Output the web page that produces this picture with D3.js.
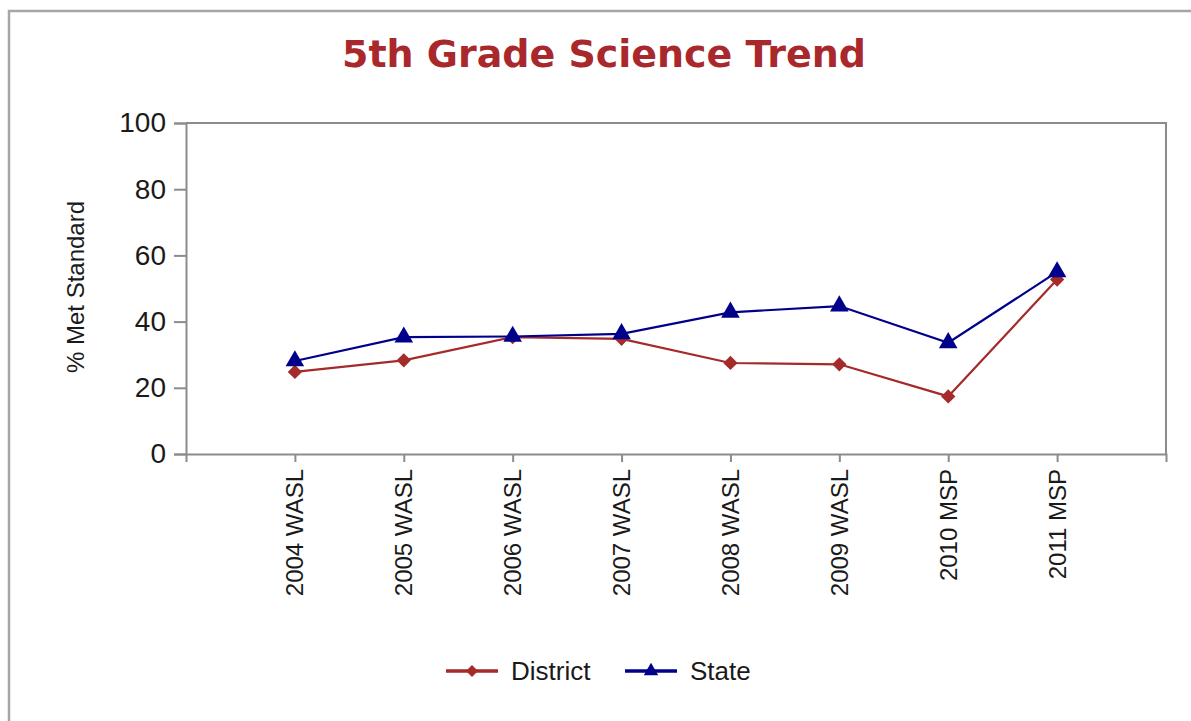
<!DOCTYPE html>
<html>
<head>
<meta charset="utf-8">
<script src="https://cdn.jsdelivr.net/npm/d3@7"></script>
<style>
    body { margin: 0; background: #fff; }
    svg { display: block; font-family: "Liberation Sans", Arial, sans-serif; }
</style>
</head>
<body>
<svg id="viz" width="1191" height="721"></svg>
<script>
// data
var categories = ["2004 WASL", "2005 WASL", "2006 WASL", "2007 WASL",
    "2008 WASL", "2009 WASL", "2010 MSP", "2011 MSP"];
var districtValues = [24.8, 28.3, 35.3, 34.8, 27.5, 27.1, 17.4, 52.7];
var stateValues = [28.1, 35.3, 35.5, 36.3, 42.8, 44.7, 33.6, 55.0];
var yTicks = [0, 20, 40, 60, 80, 100];

var series = [
    { name: "District", values: districtValues, color: "#a52a2a", marker: d3.symbolDiamond2 },
    { name: "State", values: stateValues, color: "#00008b", marker: d3.symbolTriangle }
];

var svg = d3.select("#viz");
var axisColor = "#8c8c8c";

// outer frame, runs off the right and bottom edges like the original
svg.append("rect")
    .attr("x", 9).attr("y", 11)
    .attr("width", 1200).attr("height", 730)
    .style("fill", "none")
    .style("stroke", "#a6a6a6")
    .style("stroke-width", 2.5);

svg.append("text")
    .attr("x", 604).attr("y", 67)
    .attr("text-anchor", "middle")
    .attr("textLength", 524)
    .attr("lengthAdjust", "spacingAndGlyphs")
    .style("font-family", "'DejaVu Sans', Verdana, sans-serif")
    .style("font-weight", "bold")
    .style("font-size", "37px")
    .style("fill", "#a8282c")
    .text("5th Grade Science Trend");

// plot area edges ("top" is taken by window.top)
var plotLeft = 186, plotRight = 1166, plotTop = 123, plotBottom = 454;

var x = d3.scalePoint().domain(categories).range([plotLeft, plotRight]).padding(1);
var y = d3.scaleLinear().domain([0, 100]).range([plotBottom, plotTop]);

// plot box (top and right sides)
svg.append("path")
    .attr("d", "M" + plotLeft + "," + plotTop + "H" + plotRight + "V" + plotBottom)
    .style("fill", "none")
    .style("stroke", axisColor)
    .style("stroke-width", 2);

var yAxis = svg.append("g")
    .attr("transform", "translate(" + plotLeft + ",0)")
    .call(d3.axisLeft(y).tickValues(yTicks).tickSize(12).tickPadding(8));
yAxis.select(".domain").style("stroke", axisColor).style("stroke-width", 2);
yAxis.selectAll(".tick line").style("stroke", axisColor).style("stroke-width", 2);
yAxis.selectAll(".tick text")
    .style("font-family", "'Liberation Sans', Arial, sans-serif")
    .style("font-size", "28px")
    .style("fill", "#1a1a1a");

var xAxis = svg.append("g")
    .attr("transform", "translate(0," + plotBottom + ")")
    .call(d3.axisBottom(x).tickSize(8).tickSizeOuter(8).tickFormat(""));
xAxis.select(".domain").style("stroke", axisColor).style("stroke-width", 2);
xAxis.selectAll(".tick line").style("stroke", axisColor).style("stroke-width", 2);

// rotated category labels
svg.append("g").selectAll("text")
    .data(categories)
    .enter().append("text")
    .attr("transform", function (d) {
        return "translate(" + x(d) + "," + (plotBottom + 15) + ") rotate(-90)";
    })
    .attr("text-anchor", "end")
    .attr("dy", "0.35em")
    .style("font-size", "24px")
    .style("fill", "#1a1a1a")
    .text(function (d) { return d; });

svg.append("text")
    .attr("transform", "translate(76,287) rotate(-90)")
    .attr("text-anchor", "middle")
    .attr("dy", "0.35em")
    .style("font-size", "24px")
    .style("fill", "#1a1a1a")
    .text("% Met Standard");

var line = d3.line()
    .x(function (d, i) { return x(categories[i]); })
    .y(function (d) { return y(d); });

series.forEach(function (s) {
    svg.append("path")
        .datum(s.values)
        .attr("d", line)
        .style("fill", "none")
        .style("stroke", s.color)
        .style("stroke-width", 2.2);

    svg.append("g").selectAll("path")
        .data(s.values)
        .enter().append("path")
        .attr("transform", function (d, i) {
            return "translate(" + x(categories[i]) + "," + y(d) + ")";
        })
        .attr("d", d3.symbol().type(s.marker).size(s.name === "State" ? 150 : 130))
        .style("fill", s.color);
});

// legend
var legendX = [446, 625];
var legend = svg.append("g").selectAll("g")
    .data(series)
    .enter().append("g")
    .attr("transform", function (d, i) { return "translate(" + legendX[i] + ",671)"; });

legend.append("line")
    .attr("x1", 0).attr("x2", 52)
    .style("stroke", function (d) { return d.color; })
    .style("stroke-width", 3.5);

legend.append("path")
    .attr("transform", "translate(26,0)")
    .attr("d", function (d) { return d3.symbol().type(d.marker).size(90)(); })
    .style("fill", function (d) { return d.color; });

legend.append("text")
    .attr("x", 65)
    .attr("dy", "0.35em")
    .style("font-size", "26px")
    .style("fill", "#1a1a1a")
    .text(function (d) { return d.name; });
</script>
</body>
</html>
